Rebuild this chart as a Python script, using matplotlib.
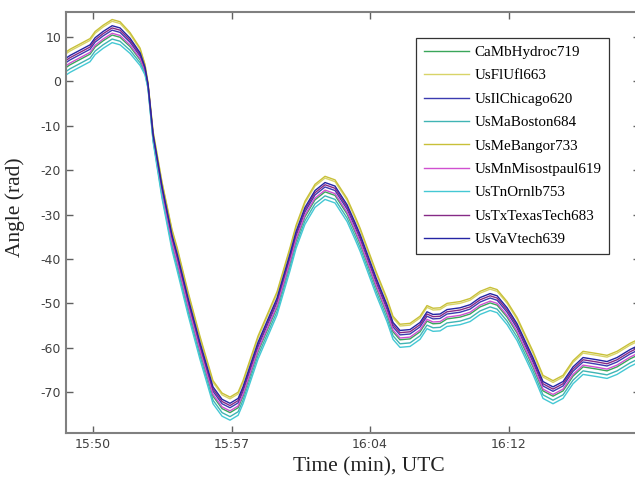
import numpy as np
import matplotlib
matplotlib.use("Agg")
import matplotlib.pyplot as plt

plt.rcParams["axes.unicode_minus"] = False

# minutes after 15:50 UTC and the centre of the station bundle (rad)
TIME_MIN = [-1.43, -1.22, -0.69, -0.16, 0.11, 0.53, 1.01, 1.43, 1.96, 2.49,
            2.75, 2.91, 3.18, 3.65, 4.18, 4.45, 5.03, 5.66, 6.35, 6.83,
            7.25, 7.68, 7.94, 8.73, 9.74, 10.43, 10.75, 11.22, 11.75, 12.28,
            12.81, 13.45, 13.87, 14.14, 14.98, 15.56, 15.88, 16.25, 16.78, 17.31,
            17.68, 18.00, 18.37, 18.74, 19.43, 19.96, 20.49, 21.02, 21.39, 21.92,
            22.45, 23.29, 23.82, 24.35, 24.88, 25.41, 25.94, 26.68, 27.21, 27.74,
            28.43, 28.96]
CENTER = [4.0, 4.6, 5.8, 7.0, 8.6, 10.0, 11.3, 10.8, 8.6, 5.5,
          2.6, -1.0, -12.5, -24.5, -35.7, -40.0, -50.0, -60.0, -70.0, -72.8,
          -73.7, -72.6, -70.0, -60.0, -50.0, -40.0, -35.0, -29.6, -25.8, -24.0,
          -24.8, -29.0, -33.0, -35.7, -45.4, -51.5, -55.5, -57.3, -57.1, -55.5,
          -53.1, -53.7, -53.6, -52.6, -52.2, -51.5, -49.9, -49.0, -49.5, -52.2,
          -55.8, -63.4, -68.8, -70.0, -68.8, -65.5, -63.4, -63.9, -64.3, -63.4,
          -61.6, -60.5]
# how far the stations fan out around the centre (1 = full spread)
SPREAD = [1.0, 1.0, 1.0, 1.0, 1.0, 1.0, 1.0, 1.0, 0.9, 0.75,
          0.45, 0.25, 0.45, 0.7, 0.9, 1.0, 1.0, 1.0, 1.0, 1.0,
          1.0, 1.0, 1.0, 1.0, 1.0, 1.0, 1.0, 1.0, 1.0, 1.0,
          1.0, 1.0, 1.0, 1.0, 1.0, 1.0, 1.0, 1.0, 1.0, 1.0,
          1.0, 1.0, 1.0, 1.0, 1.0, 1.0, 1.0, 1.0, 1.0, 1.0,
          1.0, 1.0, 1.0, 1.0, 1.0, 1.0, 1.0, 1.0, 1.0, 1.0,
          1.0, 1.0]

STATIONS = ["CaMbHydroc719", "UsFlUfl663", "UsIlChicago620", "UsMaBoston684",
            "UsMeBangor733", "UsMnMisostpaul619", "UsTnOrnlb753",
            "UsTxTexasTech683", "UsVaVtech639"]
OFFSETS = [-0.9, 2.2, 0.2, -1.8, 2.6, -0.5, -2.6, 0.7, 1.2]
COLORS = ["#3aa65a", "#d8d468", "#3b3bb0", "#40b4b4", "#c8c038",
          "#d050d0", "#44c8d4", "#862a86", "#2424a4"]

XTICKS = [0, 22 / 3, 44 / 3, 22]
XTICK_LABELS = ["15:50", "15:57", "16:04", "16:12"]
YTICKS = [10, 0, -10, -20, -30, -40, -50, -60, -70]

t = np.array(TIME_MIN)
base = np.array(CENTER)
spread = np.array(SPREAD)

fig = plt.figure(figsize=(6.35, 4.78), dpi=100)
ax = fig.add_axes([0.104, 0.094, 0.904, 0.881])

for name, off, col in zip(STATIONS, OFFSETS, COLORS):
    ax.plot(t, base + off * spread, color=col, lw=1.0, label=name)

ax.set_xlim(-1.43, 28.96)
ax.set_ylim(-79.2, 15.6)
ax.set_xticks(XTICKS)
ax.set_xticklabels(XTICK_LABELS)
ax.set_yticks(YTICKS)
ax.tick_params(direction="in", length=5, width=1, color="#606060",
               labelsize=9, labelcolor="#404040", top=True, right=True)
for s in ax.spines.values():
    s.set_color("#808080")
    s.set_linewidth(1.5)

serif = ["Liberation Serif", "DejaVu Serif"]
ax.set_xlabel("Time (min), UTC", family=serif, fontsize=15.5, color="#222222")
ax.xaxis.set_label_coords(0.528, -0.057)
ax.set_ylabel("Angle (rad)", family=serif, fontsize=15.5, color="#222222")
ax.yaxis.set_label_coords(-0.072, 0.537)

leg = ax.legend(loc="upper left", bbox_to_anchor=(416 / 635, 1 - 38 / 478),
                bbox_transform=fig.transFigure, borderaxespad=0,
                prop={"family": serif, "size": 10.8}, fancybox=False,
                handlelength=3.0, handletextpad=0.4, labelspacing=0.66,
                borderpad=0.5, framealpha=1)
leg.get_frame().set_edgecolor("#333333")
leg.get_frame().set_linewidth(0.9)

fig.savefig("out.png", dpi=100)
